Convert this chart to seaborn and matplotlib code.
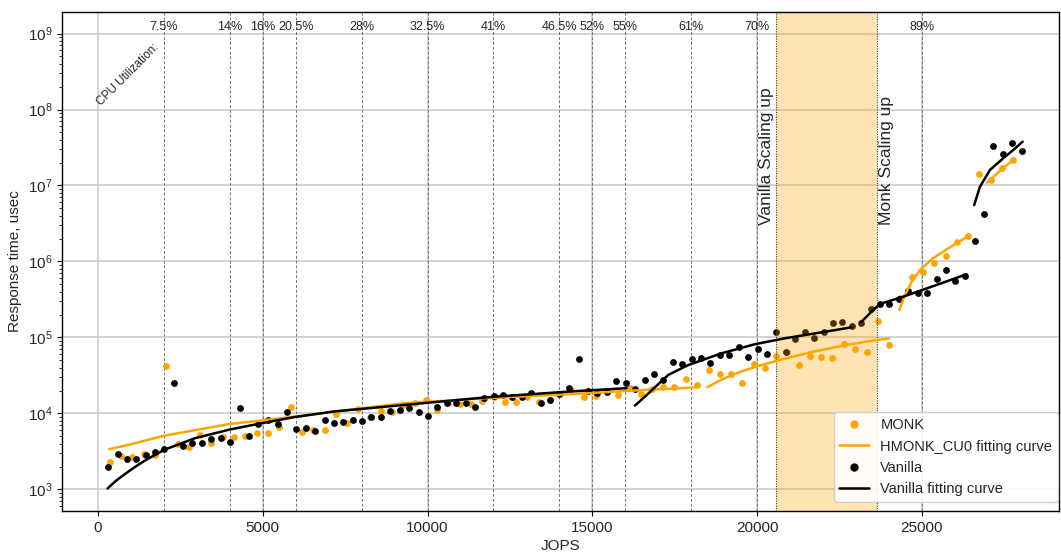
import matplotlib
matplotlib.use("Agg")
import matplotlib.pyplot as plt
import seaborn as sns
from matplotlib.lines import Line2D

# ---- data ----
monk_x = [364, 698, 1041, 1396, 1729, 2072, 2418, 2770, 3104, 3444,
          3793, 4132, 4475, 4818, 5164, 5501, 5847, 6189, 6532, 6878,
          7215, 7549, 7898, 8252, 8586, 8929, 9263, 9618, 9952, 10294,
          10628, 10983, 11326, 11660, 12015, 12348, 12682, 13025, 13380, 13714,
          14032, 14366, 14745, 15100, 15443, 15786, 16132, 16475, 16817, 17157,
          17491, 17834, 18180, 18529, 18862, 19205, 19548, 19894, 20237, 20580,
          20919, 21259, 21602, 21945, 22285, 22634, 22973, 23322, 23665, 24008,
          24348, 24688, 25040, 25374, 25719, 26053, 26396, 26739, 27094, 27427,
          27770]
monk_y = [2.31e3, 2.76e3, 2.68e3, 2.89e3, 2.82e3, 4.26e4, 3.97e3, 3.66e3, 5.26e3, 4.13e3,
          4.91e3, 4.86e3, 5.06e3, 5.54e3, 5.45e3, 6.7e3, 1.22e4, 5.66e3, 6.07e3, 6.07e3,
          9.85e3, 7.5e3, 1.13e4, 8.9e3, 1.09e4, 1.03e4, 1.28e4, 1.36e4, 1.51e4, 1.11e4,
          1.39e4, 1.32e4, 1.32e4, 1.47e4, 1.63e4, 1.40e4, 1.40e4, 1.66e4, 1.43e4, 1.51e4,
          1.78e4, 2.04e4, 1.66e4, 1.71e4, 1.92e4, 1.75e4, 2.13e4, 1.79e4, 2.08e4, 2.21e4,
          2.21e4, 2.87e4, 2.37e4, 3.74e4, 3.31e4, 3.31e4, 2.5e4, 4.48e4, 4.0e4, 5.62e4,
          6.45e4, 4.39e4, 5.62e4, 5.59e4, 5.3e4, 8.1e4, 7.0e4, 6.4e4, 1.65e5, 7.96e4,
          3.31e5, 6.3e5, 7.3e5, 9.6e5, 1.19e6, 1.78e6, 2.18e6, 1.40e7, 1.18e7, 1.68e7,
          2.17e7]

vanilla_x = [312, 598, 880, 1162, 1447, 1729, 2012, 2306, 2579, 2861,
             3155, 3438, 3732, 4014, 4299, 4581, 4864, 5167, 5452, 5734,
             6022, 6311, 6590, 6878, 7160, 7448, 7737, 8016, 8298, 8586,
             8874, 9163, 9442, 9730, 10012, 10294, 10580, 10871, 11156, 11438,
             11720, 12006, 12288, 12570, 12864, 13146, 13432, 13714, 13996, 14281,
             14584, 14867, 15149, 15443, 15725, 16010, 16293, 16587, 16869, 17151,
             17446, 17728, 18013, 18295, 18577, 18871, 19154, 19439, 19721, 20015,
             20297, 20586, 20874, 21156, 21441, 21723, 22018, 22300, 22582, 22867,
             23149, 23444, 23726, 24008, 24302, 24585, 24870, 25152, 25446, 25728,
             26010, 26296, 26608, 26881, 27163, 27449, 27731, 28025]
vanilla_y = [2.0e3, 2.9e3, 2.5e3, 2.5e3, 2.8e3, 3.1e3, 3.4e3, 2.5e4, 3.7e3, 4.05e3,
             4.05e3, 4.65e3, 4.7e3, 4.25e3, 1.19e4, 5.05e3, 7.2e3, 8.2e3, 7.2e3, 1.03e4,
             6.2e3, 6.45e3, 5.9e3, 8.2e3, 7.4e3, 7.6e3, 8.1e3, 7.95e3, 8.85e3, 9.0e3,
             1.08e4, 1.10e4, 1.19e4, 1.03e4, 9.2e3, 1.22e4, 1.36e4, 1.36e4, 1.36e4, 1.21e4,
             1.58e4, 1.70e4, 1.73e4, 1.63e4, 1.63e4, 1.88e4, 1.39e4, 1.51e4, 1.79e4, 2.18e4,
             5.16e4, 2.0e4, 1.84e4, 1.94e4, 2.68e4, 2.50e4, 2.1e4, 2.76e4, 3.3e4, 2.76e4,
             4.76e4, 4.44e4, 5.16e4, 5.3e4, 4.58e4, 5.9e4, 5.9e4, 7.4e4, 5.6e4, 7.0e4,
             6.1e4, 1.19e5, 6.5e4, 9.55e4, 1.19e5, 9.9e4, 1.19e5, 1.54e5, 1.61e5, 1.43e5,
             1.54e5, 2.37e5, 2.76e5, 2.76e5, 3.2e5, 4.1e5, 3.9e5, 3.8e5, 5.8e5, 7.7e5,
             5.6e5, 6.4e5, 1.88e6, 4.2e6, 3.3e7, 2.6e7, 3.66e7, 2.84e7]

# fitting curves, one (x, y) pair of lists per piece
monk_fit = [
    ([334, 919, 2012, 3953, 5977, 7191, 9263, 11793, 14320, 16041, 18213],
     [3.38e3, 3.85e3, 5.1e3, 7.21e3, 9.08e3, 1.06e4, 1.36e4, 1.59e4, 1.79e4, 1.98e4, 2.21e4]),
    ([18492, 18871, 19478, 20085, 20692, 21602, 22634, 23422, 24008],
     [2.21e4, 2.72e4, 3.52e4, 4.28e4, 5.06e4, 6.35e4, 7.85e4, 9.0e4, 9.7e4]),
    ([24318, 24485, 24688, 24940, 25343, 25850, 26436],
     [2.3e5, 3.62e5, 5.37e5, 7.73e5, 1.11e6, 1.53e6, 2.2e6]),
    ([26973, 27397, 27791],
     [1.09e7, 1.6e7, 2.2e7]),
]
vanilla_fit = [
    ([294, 430, 576, 740, 910, 1180, 1456, 2002, 2943, 4005, 4967, 5925, 7151, 9263,
      11793, 14281, 16041],
     [1.03e3, 1.17e3, 1.33e3, 1.50e3, 1.70e3, 2.05e3, 2.44e3, 3.31e3, 4.72e3, 6.15e3,
      7.43e3, 8.9e3, 1.06e4, 1.29e4, 1.63e4, 1.94e4, 2.15e4]),
    ([16293, 16596, 16900, 17303, 17910, 18923, 19934, 20844, 21805, 22867],
     [1.27e4, 1.66e4, 2.21e4, 3.21e4, 4.34e4, 6.19e4, 8.15e4, 9.75e4, 1.14e5, 1.36e5]),
    ([23140, 23422, 23726, 24433, 25446, 26356],
     [1.57e5, 2.08e5, 2.76e5, 3.44e5, 4.91e5, 6.79e5]),
    ([26587, 26760, 27064, 27467, 27771, 28056],
     [5.53e6, 9.6e6, 1.6e7, 2.28e7, 2.93e7, 3.77e7]),
]

cpu_x = [2000, 4000, 5000, 6000, 8000, 10000, 12000, 14000, 15000, 16000, 18000, 20000, 25000]
cpu_labels = ["7.5%", "14%", "16%", "20.5%", "28%", "32.5%", "41%", "46.5%",
              "52%", "55%", "61%", "70%", "89%"]

x_ticks = [0, 5000, 10000, 15000, 20000, 25000]
y_ticks = [1e3, 1e4, 1e5, 1e6, 1e7, 1e8, 1e9]

vanilla_scale_x = 20566
monk_scale_x = 23645

ORANGE = "orange"
BLACK = "black"


def main():
    sns.set_style("ticks")
    plt.rcParams["font.family"] = ["Liberation Sans", "DejaVu Sans"]
    plt.rcParams["mathtext.default"] = "regular"

    fig = plt.figure(figsize=(10.61, 5.54), dpi=100)
    ax = fig.add_axes([62 / 1061, 43 / 554, 997 / 1061, 499 / 554])
    ax.set_yscale("log")

    # points
    sns.scatterplot(x=monk_x, y=monk_y, color=ORANGE, s=24, linewidth=0, ax=ax, zorder=1)
    sns.scatterplot(x=vanilla_x, y=vanilla_y, color=BLACK, s=24, linewidth=0, ax=ax, zorder=1)

    # scaling-up window
    ax.axvspan(vanilla_scale_x, monk_scale_x, color=ORANGE, alpha=0.3, lw=0, zorder=1.5)
    for xv in (vanilla_scale_x, monk_scale_x):
        ax.axvline(xv, ls=(0, (1, 1.2)), color="0.25", lw=0.8, zorder=1.6)

    # fitting curves
    for fx, fy in monk_fit:
        sns.lineplot(x=fx, y=fy, color=ORANGE, lw=1.8, ax=ax, estimator=None,
                     sort=False, legend=False, zorder=2.5)
    for fx, fy in vanilla_fit:
        sns.lineplot(x=fx, y=fy, color=BLACK, lw=1.8, ax=ax, estimator=None,
                     sort=False, legend=False, zorder=2.6)

    ax.set_xticks(x_ticks)
    ax.set_yticks(y_ticks)
    ax.set_xlim(-1090, 29160)
    ax.set_ylim(520, 1.92e9)

    # CPU utilisation markers
    for xv, lab in zip(cpu_x, cpu_labels):
        ax.axvline(xv, ls=(0, (3, 2)), color="0.45", lw=0.7, zorder=0.8)
        ax.text(xv, 1.11e9, lab, ha="center", va="baseline", fontsize=9)
    ax.text(80, 1.12e8, "CPU Utilization:", rotation=45, rotation_mode="anchor",
            ha="left", va="baseline", fontsize=8.5)

    ax.text(vanilla_scale_x - 40, 3.0e6, "Vanilla Scaling up", rotation=90,
            ha="right", va="bottom", fontsize=12.5)
    ax.text(monk_scale_x + 40, 3.0e6, "Monk Scaling up", rotation=90,
            ha="left", va="bottom", fontsize=12.5)

    ax.grid(True, which="major", color="#c8c8c8", lw=1.1)
    ax.set_axisbelow(True)
    ax.tick_params(which="both", direction="out", left=True, bottom=True,
                   labelsize=11, color="black")
    ax.tick_params(which="major", length=3.5)
    ax.tick_params(which="minor", length=2)
    for sp in ax.spines.values():
        sp.set_color("black")
        sp.set_linewidth(1.0)

    ax.set_xlabel("JOPS", fontsize=11, labelpad=3)
    ax.set_ylabel("Response time, usec", fontsize=11)

    handles = [
        Line2D([], [], marker="o", ls="none", color=ORANGE, markersize=5, label="MONK"),
        Line2D([], [], color=ORANGE, lw=1.8, label="HMONK_CU0 fitting curve"),
        Line2D([], [], marker="o", ls="none", color=BLACK, markersize=5, label="Vanilla"),
        Line2D([], [], color=BLACK, lw=1.8, label="Vanilla fitting curve"),
    ]
    ax.legend(handles=handles, loc="lower right", bbox_to_anchor=(0.999, 0.018),
              borderaxespad=0, fontsize=10.5, labelspacing=0.5, framealpha=0.9)

    fig.savefig("out.png", dpi=100)
    plt.close(fig)


if __name__ == "__main__":
    main()
